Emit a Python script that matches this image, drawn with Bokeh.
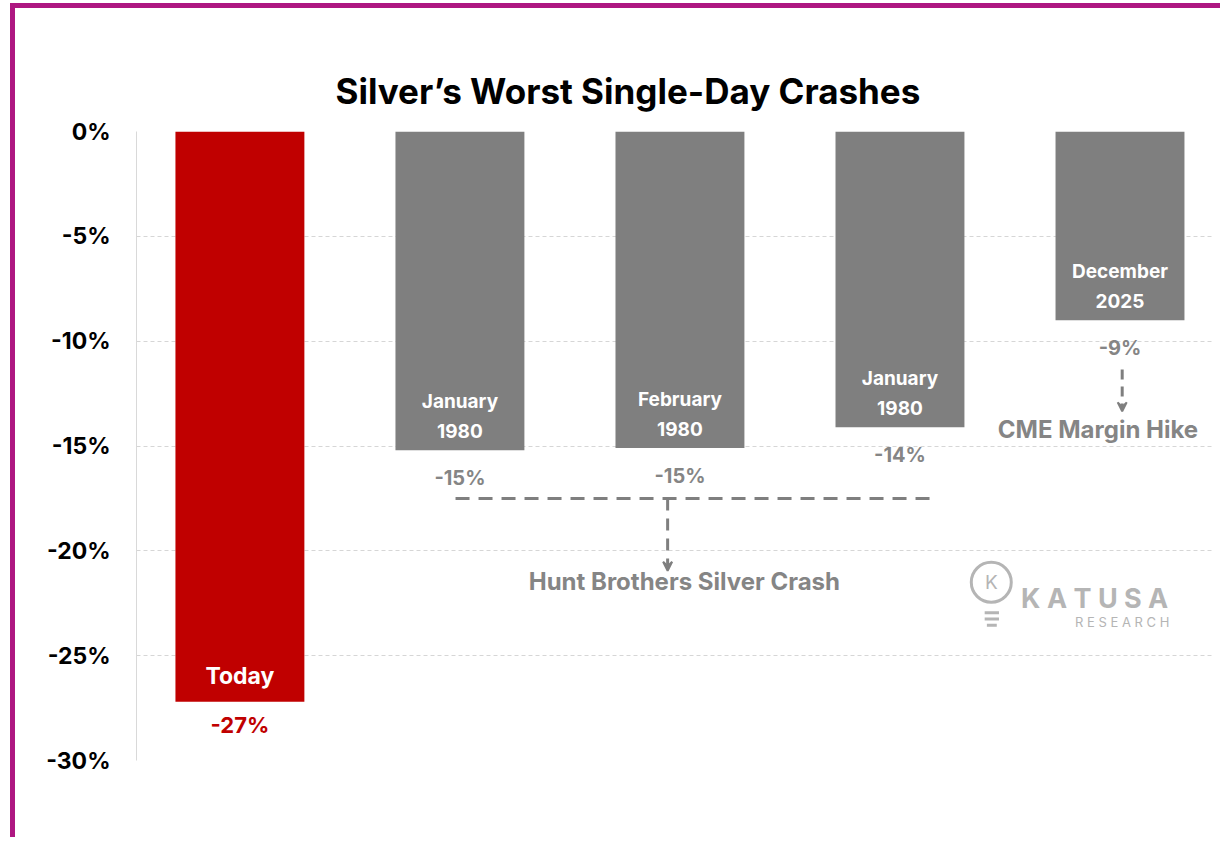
from bokeh.plotting import figure
from bokeh.models import (ColumnDataSource, Range1d, FixedTicker, Label, Arrow,
                          VeeHead)
from bokeh.core.properties import value
from bokeh.embed import file_html
from bokeh.resources import INLINE

# ---------------- data ----------------
categories = ["Today", "January\n1980", "February\n1980", "January\n1980", "December\n2025"]
crash_pct = [-27.2, -15.2, -15.1, -14.1, -9.0]
value_labels = ["-27%", "-15%", "-15%", "-14%", "-9%"]
tick_values = [0, -5, -10, -15, -20, -25, -30]
tick_labels = ["0%", "-5%", "-10%", "-15%", "-20%", "-25%", "-30%"]
title_text = "Silver\u2019s Worst Single-Day Crashes"
hunt_text = "Hunt Brothers Silver Crash"
cme_text = "CME Margin Hike"

FONT = "Inter"
RED = "#C00000"
GRAY = "#7F7F7F"
LABEL_GRAY = "#858585"
LOGO = "#B5B5B5"

idx = list(range(len(categories)))
colors = [RED] + [GRAY] * (len(categories) - 1)

src = ColumnDataSource(dict(x=idx, v=crash_pct, name=categories,
                            lab=value_labels, color=colors))
src_today = ColumnDataSource(dict(x=idx[:1], v=crash_pct[:1], name=categories[:1],
                                  lab=value_labels[:1]))
src_rest = ColumnDataSource(dict(x=idx[1:], v=crash_pct[1:], name=categories[1:],
                                 lab=value_labels[1:]))

p = figure(width=1210, height=834, output_backend="svg", toolbar_location=None,
           x_range=Range1d(-0.47, 4.425), y_range=Range1d(-30, 0),
           min_border_left=121, min_border_right=12, min_border_top=123,
           min_border_bottom=82)
p.styles = {"border-left": "5px solid #AE1781", "border-top": "5px solid #AE1781",
            "position": "relative", "left": "10px", "top": "3px"}
p.outline_line_color = None
p.background_fill_color = "white"
p.border_fill_color = "white"

p.title.text = title_text
p.title.align = "left"
p.title.offset = 199
p.title.standoff = 40
p.title.text_font = FONT
p.title.text_font_style = "bold"
p.title.text_font_size = "35px"
p.title.text_color = "black"

p.xaxis.visible = False
p.xgrid.grid_line_color = None
p.ygrid.grid_line_color = "#D6D6D6"
p.ygrid.grid_line_dash = "4 3"
p.ygrid.grid_line_width = 1

yax = p.yaxis[0]
yax.ticker = FixedTicker(ticks=tick_values)
yax.major_label_overrides = {t: l for t, l in zip(tick_values, tick_labels)}
yax.axis_line_color = "#D9D9D9"
yax.axis_line_width = 1
yax.major_tick_line_color = None
yax.minor_tick_line_color = None
yax.major_label_standoff = 20
yax.major_label_text_font = FONT
yax.major_label_text_font_style = "bold"
yax.major_label_text_font_size = "23px"
yax.major_label_text_color = "black"

# bars
p.vbar(x="x", top=0, bottom="v", width=0.586, fill_color="color",
       line_color=None, source=src)

# labels inside bars
p.text(x="x", y="v", text="name", source=src_rest, text_align="center",
       text_baseline="bottom", y_offset=-7, text_color="white",
       text_font=value(FONT), text_font_style="bold", text_font_size="19px",
       text_line_height=1.3)
p.text(x="x", y="v", text="name", source=src_today, text_align="center",
       text_baseline="bottom", y_offset=-12, text_color="white",
       text_font=value(FONT), text_font_style="bold", text_font_size="23px")

# value labels under bars
p.text(x="x", y="v", text="lab", source=src_rest, text_align="center",
       text_baseline="top", y_offset=16, text_color=LABEL_GRAY,
       text_font=value(FONT), text_font_style="bold", text_font_size="20px")
p.text(x="x", y="v", text="lab", source=src_today, text_align="center",
       text_baseline="top", y_offset=10, text_color=RED,
       text_font=value(FONT), text_font_style="bold", text_font_size="22px")

# Hunt brothers bracket
p.segment(x0=[0.98], y0=[-17.5], x1=[3.16], y1=[-17.5], line_color=GRAY,
          line_width=3, line_dash="14 9")
p.add_layout(Arrow(end=VeeHead(size=9, line_color=GRAY, fill_color=GRAY, line_width=2),
                   x_start=1.944, y_start=-17.5, x_end=1.944, y_end=-20.95,
                   line_color=GRAY, line_width=3, line_dash="12 8"))
p.add_layout(Label(x=2.02, y=-21.45, text=hunt_text, text_align="center",
                   text_baseline="middle", text_color=LABEL_GRAY,
                   text_font=FONT, text_font_style="bold", text_font_size="24px"))

# CME arrow
p.add_layout(Arrow(end=VeeHead(size=9, line_color=GRAY, fill_color=GRAY, line_width=2),
                   x_start=4.01, y_start=-11.35, x_end=4.01, y_end=-13.35,
                   line_color=GRAY, line_width=3, line_dash="10 7"))
p.add_layout(Label(x=3.9, y=-14.2, text=cme_text, text_align="center",
                   text_baseline="middle", text_color=LABEL_GRAY,
                   text_font=FONT, text_font_style="bold", text_font_size="24px"))

# logo
p.scatter(x=[3.415], y=[-21.5], marker="circle", size=40, fill_color=None,
          line_color=LOGO, line_width=3)
p.segment(x0=[3.385, 3.385, 3.395], y0=[-22.95, -23.25, -23.55],
          x1=[3.45, 3.45, 3.44], y1=[-22.95, -23.25, -23.55],
          line_color=LOGO, line_width=3)
p.add_layout(Label(x=3.415, y=-21.5, text="K", text_align="center",
                   text_baseline="middle", text_color=LOGO, text_font=FONT,
                   text_font_size="19px"))
p.add_layout(Label(x=3.885, y=-22.27, text="K A T U S A", text_align="center",
                   text_baseline="middle", text_color=LOGO, text_font=FONT,
                   text_font_style="bold", text_font_size="27px"))
p.add_layout(Label(x=4.01, y=-23.4, text="R E S E A R C H", text_align="center",
                   text_baseline="middle", text_color=LOGO, text_font=FONT,
                   text_font_size="13px"))

open("out.html", "w").write(file_html(p, INLINE))
